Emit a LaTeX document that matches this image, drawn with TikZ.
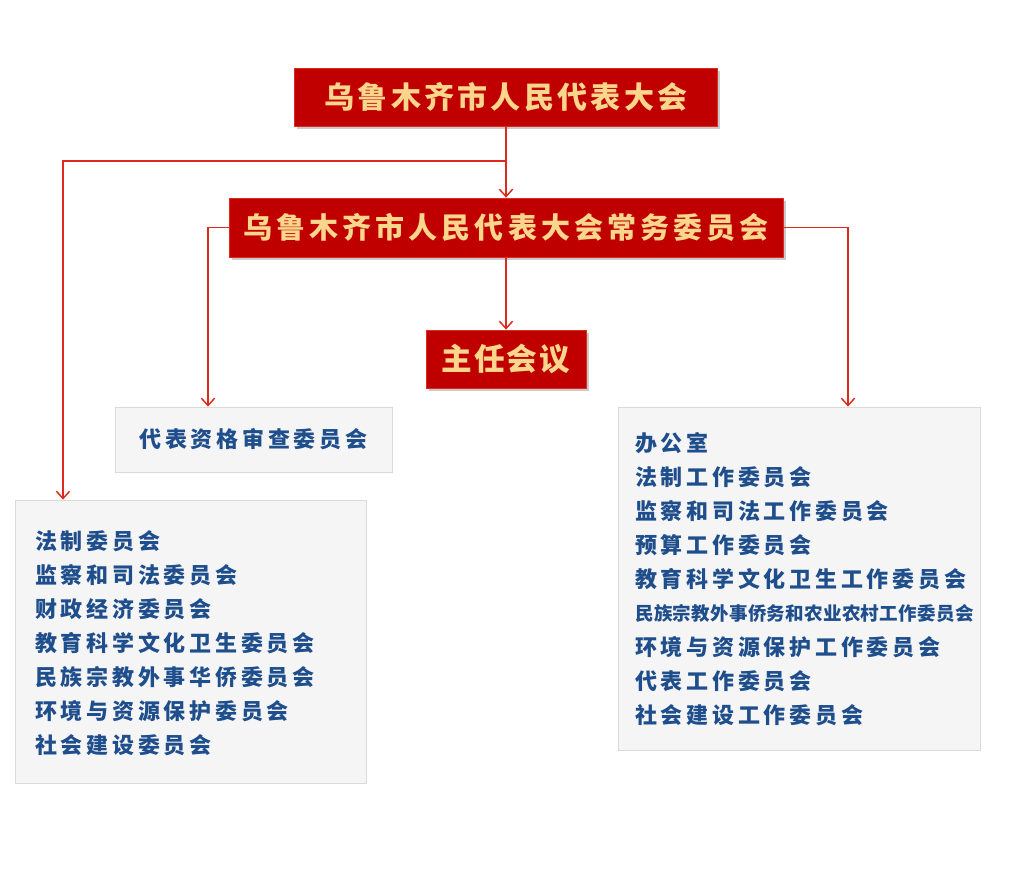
\documentclass[tikz,border=0pt]{standalone}
\usepackage{fontspec}
\usetikzlibrary{arrows.meta,shadows}
\newfontfamily\cjk{Noto Sans CJK SC}
\definecolor{boxred}{HTML}{C00000}
\definecolor{gold}{HTML}{F9D68C}
\definecolor{navy}{HTML}{1F4E8C}
\definecolor{linered}{HTML}{DD2A1E}
\definecolor{panel}{HTML}{F5F5F5}
\definecolor{panelline}{HTML}{DADADA}
\begin{document}
\begin{tikzpicture}[x=0.75pt,y=-0.75pt,
  redbox/.style={draw=linered, line width=0.6pt, fill=boxred, text=gold, inner sep=0pt,
    drop shadow={shadow xshift=2pt,shadow yshift=-2.5pt,opacity=0.35,fill=black!60}},
  panelbox/.style={draw=panelline, fill=panel, line width=0.6pt, inner sep=0pt},
  conn/.style={draw=linered, line width=1.1pt, -{Straight Barb[length=5.5pt,width=10pt,line width=1.1pt]}},
  item/.style={text=navy, anchor=base west, inner sep=0pt,
    font=\cjk\bfseries\fontsize{16.5pt}{20pt}\selectfont\addfontfeature{LetterSpace=17}},
  itemsmall/.style={text=navy, anchor=base west, inner sep=0pt,
    font=\cjk\bfseries\fontsize{13.9pt}{18pt}\selectfont\addfontfeature{LetterSpace=1.5}}
]
\useasboundingbox (0,0) rectangle (1014,878);

% red boxes
\node[redbox, minimum width=317.25pt, minimum height=43.5pt,
  font=\cjk\bfseries\fontsize{22.5pt}{26pt}\selectfont\addfontfeature{LetterSpace=11}]
  (top) at (506,97) {乌鲁木齐市人民代表大会};
\node[redbox, minimum width=415.5pt, minimum height=44.25pt,
  font=\cjk\bfseries\fontsize{21.75pt}{26pt}\selectfont\addfontfeature{LetterSpace=14}]
  (sc) at (506,227.5) {乌鲁木齐市人民代表大会常务委员会};
\node[redbox, minimum width=120pt, minimum height=43.5pt,
  font=\cjk\bfseries\fontsize{23pt}{26pt}\selectfont\addfontfeature{LetterSpace=6}]
  (zr) at (506,359) {主任会议};

% panels
\node[panelbox, minimum width=207.75pt, minimum height=48.75pt,
  text=navy, font=\cjk\bfseries\fontsize{16.5pt}{20pt}\selectfont\addfontfeature{LetterSpace=17}]
  (Q) at (253.5,439.5) {代表资格审查委员会};
\node[panelbox, minimum width=263.25pt, minimum height=212.25pt] (L) at (190.5,641.5) {};
\node[panelbox, minimum width=271.5pt, minimum height=257.25pt] (R) at (799,578.5) {};

% left list
\foreach \t [count=\i] in {法制委员会,监察和司法委员会,财政经济委员会,教育科学文化卫生委员会,民族宗教外事华侨委员会,环境与资源保护委员会,社会建设委员会}
  \node[item] (l\i) at (35,{549+34*(\i-1)}) {\t};

% right list
\node[item] (r1) at (635,451) {办公室};
\node[item] (r2) at (635,485) {法制工作委员会};
\node[item] (r3) at (635,519) {监察和司法工作委员会};
\node[item] (r4) at (635,553) {预算工作委员会};
\node[item] (r5) at (635,587) {教育科学文化卫生工作委员会};
\node[itemsmall] (r6) at (635,620) {民族宗教外事侨务和农业农村工作委员会};
\node[item] (r7) at (635,655) {环境与资源保护工作委员会};
\node[item] (r8) at (635,689) {代表工作委员会};
\node[item] (r9) at (635,723) {社会建设工作委员会};

% connectors
\coordinate (j) at (506,161);
\coordinate (jl) at (63,161);
\coordinate (ql) at (208,227.5);
\coordinate (rr) at (848,227.5);
\draw[conn] (top.south) -- (sc.north);
\draw[conn] (j) -- (jl) -- (jl |- L.north);
\draw[conn] (sc.west) -- (ql) -- (ql |- Q.north);
\draw[conn] (sc.east) -- (rr) -- (rr |- R.north);
\draw[conn] (sc.south) -- (zr.north);
\end{tikzpicture}
\end{document}
